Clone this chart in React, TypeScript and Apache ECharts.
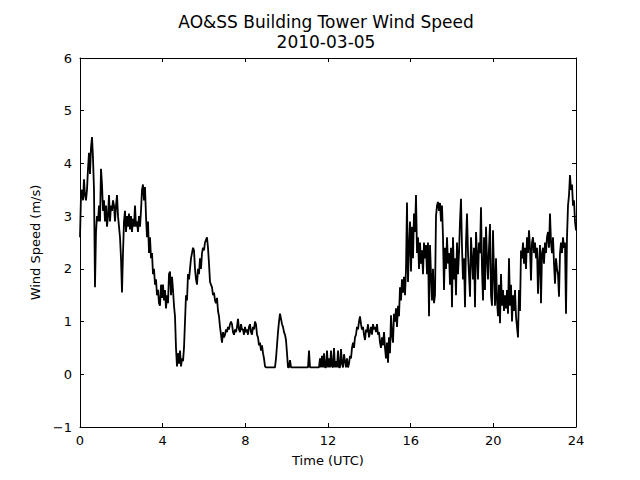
import React, { useEffect, useRef } from "react";
import * as echarts from "echarts";

const TITLE = "AO&SS Building Tower Wind Speed\n2010-03-05";
const X_LABEL = "Time (UTC)";
const Y_LABEL = "Wind Speed (m/s)";
const X_TICKS = [0, 4, 8, 12, 16, 20, 24];
const Y_TICKS = [-1, 0, 1, 2, 3, 4, 5, 6];

// Sampling interval of the record (hours); samples start at 00 UTC
const SAMPLE_STEP_HOURS = 24 / 496;

// Wind speed (m/s) at each sample
const windSpeed: number[] = [
  2.6, 3.4, 3.5, 3.3, 3.7, 3.4, 3.3, 3.5, 3.9, 4.2, 3.8, 4.3, 4.5, 4.1, 3.5, 1.65, 2.7, 3.0, 2.9, 3.2,
  2.9, 3.9, 3.6, 3.1, 3.3, 2.9, 3.2, 2.8, 3.0, 3.4, 2.9, 3.2, 3.1, 3.3, 3.2, 2.9, 3.2, 3.4, 3.0, 2.8,
  2.6, 2.2, 1.55, 2.3, 2.9, 3.1, 2.7, 3.0, 2.8, 3.05, 2.75, 3.0, 2.7, 2.95, 2.8, 3.2, 2.8, 2.9, 2.7, 3.0,
  2.8, 3.1, 3.5, 3.6, 3.3, 3.55, 3.0, 2.6, 2.9, 2.3, 2.6, 2.2, 2.3, 1.9, 2.0, 1.7, 1.8, 1.5, 1.6, 1.35,
  1.3, 1.7, 1.45, 1.7, 1.4, 1.6, 1.25, 1.5, 1.35, 1.9, 1.95, 1.5, 1.85, 1.6, 1.3, 1.1, 0.5, 0.15, 0.4, 0.2,
  0.45, 0.15, 0.3, 0.25, 0.5, 1.0, 1.5, 1.4, 1.9, 1.8, 2.0, 2.2, 2.3, 2.4, 2.35, 2.0, 1.8, 1.7, 2.0, 1.9,
  2.2, 2.0, 2.3, 2.4, 2.35, 2.5, 2.55, 2.6, 2.4, 2.1, 1.75, 1.7, 1.65, 1.5, 1.55, 1.4, 1.35, 1.45, 1.2, 1.1,
  0.9, 0.75, 0.6, 0.8, 0.7, 0.75, 0.85, 0.8, 0.9, 0.85, 0.95, 1.0, 0.95, 0.8, 0.75, 0.85, 0.8, 0.9, 1.05, 0.85,
  0.8, 0.95, 0.85, 0.85, 0.75, 0.9, 0.8, 0.85, 0.75, 0.9, 0.95, 0.8, 0.75, 0.9, 0.85, 1.0, 0.95, 0.75, 0.7, 0.55,
  0.6, 0.45, 0.55, 0.4, 0.3, 0.15, 0.13, 0.13, 0.13, 0.13, 0.13, 0.13, 0.13, 0.13, 0.13, 0.13, 0.3, 0.55, 0.8, 1.0,
  1.15, 1.05, 0.95, 0.9, 0.8, 0.75, 0.65, 0.4, 0.13, 0.13, 0.27, 0.13, 0.13, 0.13, 0.13, 0.13, 0.13, 0.13, 0.13, 0.13,
  0.13, 0.13, 0.13, 0.13, 0.13, 0.13, 0.13, 0.13, 0.13, 0.45, 0.13, 0.13, 0.13, 0.13, 0.13, 0.13, 0.13, 0.13, 0.13, 0.13,
  0.3, 0.13, 0.35, 0.13, 0.4, 0.13, 0.13, 0.45, 0.13, 0.3, 0.13, 0.45, 0.15, 0.13, 0.5, 0.13, 0.25, 0.13, 0.45, 0.13,
  0.13, 0.48, 0.2, 0.13, 0.38, 0.25, 0.13, 0.3, 0.13, 0.2, 0.35, 0.3, 0.5, 0.6, 0.5, 0.7, 0.75, 0.9, 0.85, 1.0,
  1.1, 0.95, 0.85, 0.9, 0.75, 0.65, 0.85, 0.8, 0.95, 0.7, 0.8, 0.9, 0.75, 0.95, 0.85, 0.9, 0.8, 0.95, 0.75, 0.8,
  0.6, 0.5, 0.7, 0.55, 0.8, 0.5, 0.3, 0.6, 0.22, 0.7, 0.4, 1.12, 0.75, 0.6, 1.15, 1.0, 1.25, 0.9, 1.3, 1.1,
  1.65, 1.4, 1.8, 1.55, 1.85, 1.5, 2.0, 3.26, 1.75, 2.4, 2.9, 1.95, 2.8, 2.2, 3.05, 2.7, 3.4, 2.3, 2.6, 2.0,
  2.5, 2.1, 2.35, 1.9, 2.5, 2.2, 2.45, 1.9, 2.5, 1.1, 2.45, 1.9, 1.4, 2.0, 1.35, 1.5, 3.0, 3.2, 3.27, 3.1,
  3.25, 2.9, 3.2, 2.6, 1.6, 2.4, 2.0, 2.6, 2.1, 2.3, 1.7, 2.4, 1.27, 2.6, 1.8, 2.2, 1.5, 2.5, 1.9, 2.3,
  2.9, 3.33, 2.4, 1.8, 2.2, 1.27, 2.5, 3.05, 2.3, 1.9, 1.47, 2.6, 2.2, 1.8, 2.4, 1.27, 2.7, 2.3, 1.8, 2.5,
  2.3, 3.17, 2.0, 1.4, 2.6, 1.6, 2.8, 2.2, 1.8, 2.4, 2.85, 1.5, 1.3, 2.73, 1.9, 1.3, 2.2, 1.4, 1.1, 1.7,
  0.97, 1.9, 1.3, 1.6, 1.2, 1.5, 1.25, 1.6, 1.15, 2.2, 1.3, 1.7, 1.0, 1.5, 1.2, 1.6, 1.1, 0.9, 0.7, 1.6,
  1.2, 2.35, 2.2, 2.5, 2.1, 2.4, 2.0, 2.6, 2.3, 2.73, 2.4, 1.78, 2.5, 2.6, 2.3, 2.5, 2.2, 2.4, 1.53, 2.1,
  2.45, 1.35, 2.3, 2.4, 2.1, 2.5, 2.3, 2.6, 2.7, 2.4, 3.05, 2.5, 2.3, 2.6, 2.1, 1.72, 2.2, 2.0, 1.9, 1.47,
  2.3, 2.5, 2.3, 2.6, 2.4, 2.5, 1.15, 2.6, 3.2, 3.4, 3.78, 3.5, 3.6, 3.2, 3.3, 2.9, 2.73,
];

const FONT = "DejaVu Sans";

export default function App() {
  const ref = useRef<HTMLDivElement>(null);
  useEffect(() => {
    if (!ref.current) return;
    const chart = echarts.init(ref.current, null, { renderer: "svg" });
    const seriesData = windSpeed.map((v, i) => [i * SAMPLE_STEP_HOURS, v]);
    const axisCommon = {
      axisLine: { show: true, onZero: false, lineStyle: { color: "#000", width: 1 } },
      axisTick: { show: true, inside: true, length: 4, lineStyle: { color: "#000", width: 1 } },
      splitLine: { show: false },
    };
    const minusFmt = (v: number) => String(v).replace("-", "\u2212");
    chart.setOption({
      animation: false,
      backgroundColor: "#fff",
      title: {
        text: TITLE,
        left: 321,
        textAlign: "center",
        top: 7,
        textStyle: { fontFamily: FONT, fontSize: 17, fontWeight: "normal", color: "#000", lineHeight: 20 },
      },
      grid: { left: 80, right: 64, top: 58, bottom: 53, containLabel: false },
      xAxis: [
        {
          type: "value",
          min: X_TICKS[0],
          max: X_TICKS[X_TICKS.length - 1],
          interval: 4,
          ...axisCommon,
          axisLabel: { color: "#000", fontFamily: FONT, fontSize: 13, margin: 7, formatter: minusFmt },
          name: X_LABEL,
          nameLocation: "middle",
          nameGap: 27,
          nameTextStyle: { color: "#000", fontFamily: FONT, fontSize: 13 },
        },
        {
          type: "value",
          position: "top",
          min: X_TICKS[0],
          max: X_TICKS[X_TICKS.length - 1],
          interval: 4,
          ...axisCommon,
          axisLabel: { show: false },
        },
      ],
      yAxis: [
        {
          type: "value",
          min: Y_TICKS[0],
          max: Y_TICKS[Y_TICKS.length - 1],
          interval: 1,
          ...axisCommon,
          axisLabel: { color: "#000", fontFamily: FONT, fontSize: 13, margin: 8, formatter: minusFmt },
          name: Y_LABEL,
          nameLocation: "middle",
          nameGap: 37,
          nameTextStyle: { color: "#000", fontFamily: FONT, fontSize: 13 },
        },
        {
          type: "value",
          position: "right",
          min: Y_TICKS[0],
          max: Y_TICKS[Y_TICKS.length - 1],
          interval: 1,
          ...axisCommon,
          axisLabel: { show: false },
        },
      ],
      series: [
        {
          type: "line",
          data: seriesData,
          xAxisIndex: 0,
          yAxisIndex: 0,
          showSymbol: false,
          symbol: "none",
          lineStyle: { color: "#000", width: 1.8 },
          silent: true,
        },
      ],
    });
    return () => chart.dispose();
  }, []);
  return <div ref={ref} style={{ width: 640, height: 480, position: "absolute", left: 0, top: 0 }} />;
}
